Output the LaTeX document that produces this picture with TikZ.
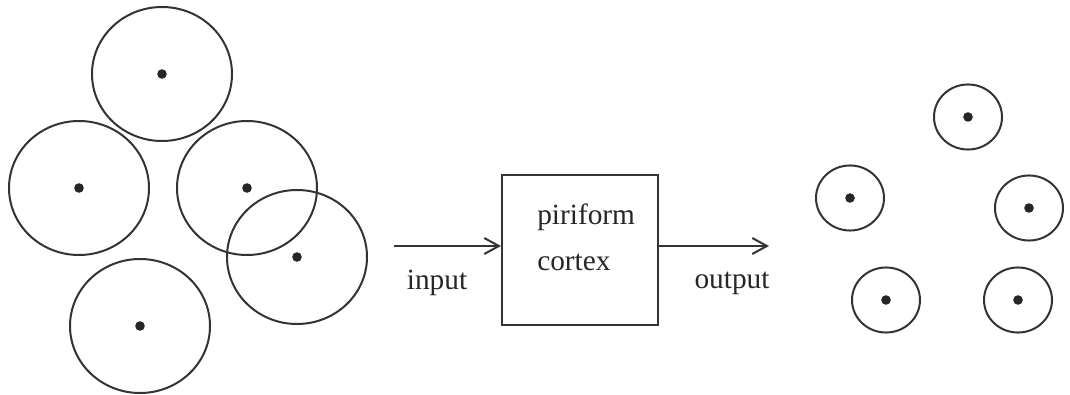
\documentclass[tikz,border=0pt]{standalone}
\usepackage{fontspec}
\setmainfont{Liberation Serif}
\usetikzlibrary{arrows.meta,positioning}

\begin{document}
\begin{tikzpicture}[
    x=0.75pt, y=-0.75pt,
    field/.style={line width=1.5pt, draw=black!80},
    centre/.style={fill=black!85},
    procbox/.style={draw=black!80, line width=1.5pt, minimum width=117pt, minimum height=112pt, inner sep=0pt},
    lbl/.style={font=\fontsize{22}{34.5}\selectfont, inner sep=0pt, text=black!85},
    flow/.style={-{Straight Barb[length=11pt, width=12pt, line width=1.5pt]}, line width=1.5pt, draw=black!80}
]
\useasboundingbox (0,0) rectangle (1070,395);

% broad receptive fields at the input
\foreach \cx/\cy in {162/74, 79/188, 247/188, 297/257, 140/326} {
    \draw[field] (\cx,\cy) ellipse [x radius=52.5pt, y radius=50.25pt];
    \fill[centre] (\cx,\cy) circle [radius=3.6pt];
}

% sharpened fields at the output
\foreach \cx/\cy in {968/117, 850/198, 1029/208, 886/300, 1018/300} {
    \draw[field] (\cx,\cy) ellipse [x radius=25.5pt, y radius=24.4pt];
    \fill[centre] (\cx,\cy) circle [radius=3.6pt];
}

\node[procbox] (cortex) at (580,250) {};
\node[lbl, align=left, anchor=west] (cortextext) at (537,237) {piriform\\cortex};

\coordinate (inA) at (394,246);
\coordinate (outB) at (769,246);
\draw[flow] (inA) -- (inA -| cortex.west);
\draw[flow] (outB -| cortex.east) -- (outB);

\node[lbl] (inputlbl) at (437,283) {input};
\node[lbl] (outputlbl) at (732,283) {output};
\end{tikzpicture}
\end{document}
